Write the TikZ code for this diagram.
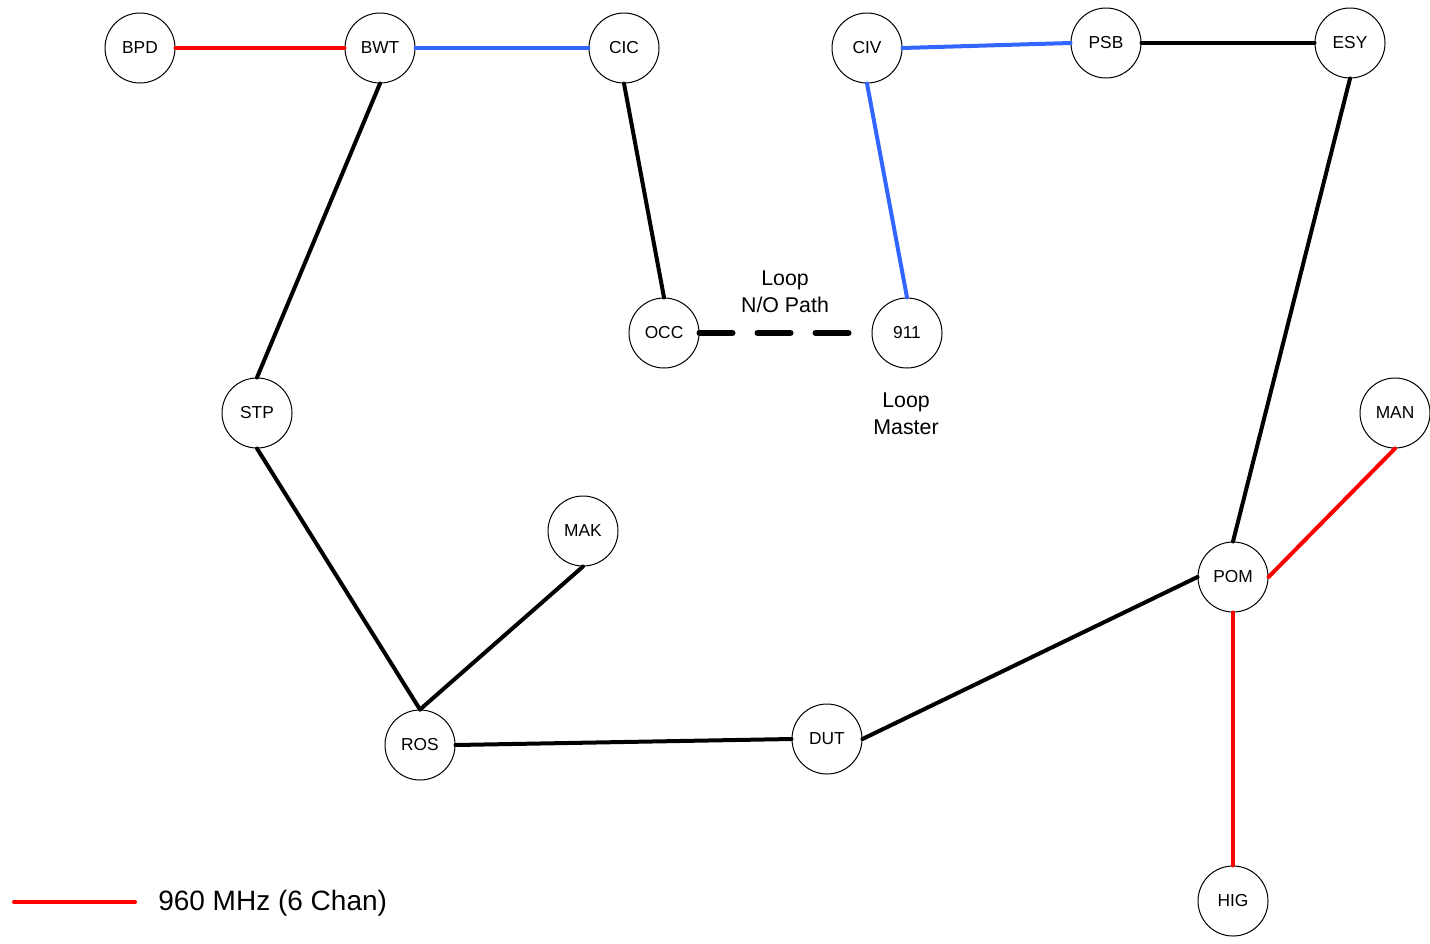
\documentclass[tikz,border=0pt]{standalone}
\usepackage{fontspec}
\setmainfont{Liberation Sans}
\definecolor{linkred}{RGB}{255,0,0}
\definecolor{linkblue}{RGB}{51,102,255}
\begin{document}
\begin{tikzpicture}[x=0.75pt,y=-0.75pt,
  site/.style={circle,draw=black,line width=0.75pt,minimum size=52.5pt,inner sep=0pt,fill=white,font=\fontsize{13}{15}\selectfont},
  link/.style={line width=3pt,line cap=round},
  redlink/.style={link,draw=linkred},
  bluelink/.style={link,draw=linkblue},
  blacklink/.style={link,draw=black},
  nopath/.style={line width=4.5pt,line cap=round,draw=black,dash pattern=on 24.75pt off 18.75pt},
  note/.style={align=center,font=\fontsize{16}{20}\selectfont,inner sep=0pt}]
\useasboundingbox (0,0) rectangle (1430,943);
% nodes
\node[site] (BPD) at (140,48) {BPD};
\node[site] (BWT) at (380,48) {BWT};
\node[site] (CIC) at (624,48) {CIC};
\node[site] (CIV) at (867,48) {CIV};
\node[site] (PSB) at (1106,43) {PSB};
\node[site] (ESY) at (1350,43) {ESY};
\node[site] (OCC) at (664,333) {OCC};
\node[site] (N911) at (907,333) {911};
\node[site] (STP) at (257,413) {STP};
\node[site] (MAN) at (1395,413) {MAN};
\node[site] (MAK) at (583,531) {MAK};
\node[site] (POM) at (1233,577) {POM};
\node[site] (ROS) at (420,745) {ROS};
\node[site] (DUT) at (827,739) {DUT};
\node[site] (HIG) at (1233,901) {HIG};
% links
\draw[redlink] (BPD.east) -- (BWT.west);
\draw[bluelink] (BWT.east) -- (CIC.west);
\draw[bluelink] (CIV.east) -- (PSB.west);
\draw[blacklink] (PSB.east) -- (ESY.west);
\draw[blacklink] (BWT.south) -- (STP.north);
\draw[blacklink] (CIC.south) -- (OCC.north);
\draw[bluelink] (CIV.south) -- (N911.north);
\draw[blacklink] (ESY.south) -- (POM.north);
\draw[redlink] (MAN.south) -- (POM.east);
\draw[redlink] (POM.south) -- (HIG.north);
\draw[blacklink] (POM.west) -- (DUT.east);
\draw[blacklink] (ROS.east) -- (DUT.west);
\draw[blacklink] (STP.south) -- (ROS.north);
\draw[blacklink] (MAK.south) -- (ROS.north);
\draw[nopath] (OCC.east) -- (N911.west);
% labels
\node[note] (lnop) at (785,292) {Loop\\N/O Path};
\node[note] (lmas) at (906,414) {Loop\\Master};
% legend
\coordinate (lega) at (14,902);
\coordinate (legb) at (135,902);
\draw[redlink] (lega) -- (legb);
\node[anchor=west,inner sep=0pt,font=\fontsize{21}{24}\selectfont] (legt) at (158,903) {960 MHz (6 Chan)};
\end{tikzpicture}
\end{document}
